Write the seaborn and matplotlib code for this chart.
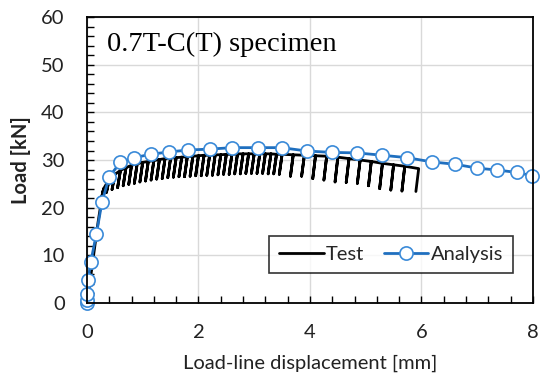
import matplotlib
matplotlib.use("Agg")
import matplotlib.pyplot as plt
from matplotlib.ticker import MultipleLocator
import seaborn as sns
import pandas as pd

# ---- Data ----
# Analysis curve
analysis_x = [0.0, 0.0, 0.01, 0.02, 0.07, 0.17, 0.27, 0.40, 0.60, 0.85, 1.14, 1.47, 1.82,
              2.21, 2.61, 3.06, 3.49, 3.94, 4.39, 4.84, 5.30, 5.74, 6.19, 6.61, 7.00,
              7.36, 7.71, 7.99]
analysis_y = [0.0, 0.6, 1.8, 4.8, 8.7, 14.5, 21.2, 26.5, 29.5, 30.5, 31.2, 31.7, 32.1,
              32.3, 32.6, 32.6, 32.6, 31.9, 31.6, 31.5, 31.0, 30.5, 29.6, 29.1, 28.3,
              27.9, 27.4, 26.7]

# Test curve: initial loading branch
test_rise_x = [0.0, 0.05, 0.12, 0.20, 0.26]
test_rise_y = [0.0, 4.0, 10.0, 17.0, 21.5]

# Test curve: partial unloadings (envelope point and lowest load of each unloading)
unload_x = [0.30, 0.40, 0.50, 0.60, 0.70, 0.80, 0.90, 1.00, 1.10, 1.20, 1.30, 1.40, 1.50,
            1.60, 1.70, 1.80, 1.90, 2.00, 2.10, 2.20, 2.30, 2.40, 2.50, 2.60, 2.70, 2.80,
            2.90, 3.00, 3.10, 3.20, 3.30, 3.40, 3.50, 3.70, 3.90, 4.10, 4.30, 4.50, 4.70,
            4.90, 5.10, 5.30, 5.50, 5.70, 5.95]
unload_top = [24.0, 26.0, 27.0, 27.8, 28.4, 28.9, 29.2, 29.5, 29.7, 29.9, 30.1, 30.3, 30.4,
              30.5, 30.6, 30.7, 30.8, 30.9, 31.0, 31.0, 31.1, 31.1, 31.2, 31.2, 31.3, 31.3,
              31.3, 31.3, 31.3, 31.3, 31.3, 31.2, 31.2, 31.1, 31.0, 30.9, 30.8, 30.6, 30.3,
              30.0, 29.7, 29.3, 29.0, 28.7, 28.2]
unload_bottom = [21.5, 23.2, 23.8, 24.2, 24.6, 24.9, 25.1, 25.4, 25.6, 25.8, 26.0, 26.1, 26.3,
                 26.4, 26.5, 26.5, 26.6, 26.7, 26.7, 26.8, 26.8, 26.9, 27.0, 27.0, 27.1, 27.1,
                 27.2, 27.2, 27.2, 27.2, 27.1, 27.1, 27.0, 26.6, 26.6, 26.1, 25.8, 25.4, 25.3,
                 25.1, 24.6, 24.0, 23.7, 23.5, 23.4]
unload_dx = 0.05  # horizontal shift of the elastic unloading line

# Build test path (loading, each unload down and back up, final unload ends the record)
tx = list(test_rise_x)
ty = list(test_rise_y)
for i, (ux, ut, ub) in enumerate(zip(unload_x, unload_top, unload_bottom)):
    tx += [ux, ux - unload_dx]
    ty += [ut, ub]
    if i < len(unload_x) - 1:
        tx.append(ux)
        ty.append(ut)
test_df = pd.DataFrame({"x": tx, "y": ty})
ana_df = pd.DataFrame({"x": analysis_x, "y": analysis_y})

x_ticks = [0, 2, 4, 6, 8]
y_ticks = [0, 10, 20, 30, 40, 50, 60]

# ---- Plot ----
sns.set_theme(style="white")
plt.rcParams["font.family"] = ["Lato", "DejaVu Sans"]

fig = plt.figure(figsize=(5.40, 3.79), dpi=100)
ax = fig.add_axes([0.161, 0.2005, 0.826, 0.7545])

line_blue = "#1f6fbf"
edge_blue = "#3a8ad8"
sns.lineplot(data=test_df, x="x", y="y", sort=False, estimator=None, ax=ax,
             color="black", lw=2.0, label="Test")
sns.lineplot(data=ana_df, x="x", y="y", sort=False, estimator=None, ax=ax,
             color=line_blue, lw=2.0, marker="o", markersize=9.5, markerfacecolor="white",
             markeredgecolor=edge_blue, markeredgewidth=1.2, label="Analysis", clip_on=False)

ax.set_xlim(0, 8)
ax.set_ylim(0, 60)
ax.set_xticks(x_ticks)
ax.set_yticks(y_ticks)
ax.xaxis.set_minor_locator(MultipleLocator(0.4))
ax.yaxis.set_minor_locator(MultipleLocator(2))
ax.grid(True, which="major", color="#d9d9d9", lw=1.0)
ax.set_axisbelow(True)
ax.tick_params(which="both", direction="in", length=5, width=1.0, color="black",
               top=False, right=False, bottom=True, left=True, labelsize=14.5,
               labelcolor="#222222")
ax.tick_params(axis="x", which="major", pad=15)
ax.tick_params(axis="y", which="major", pad=16)
for s in ax.spines.values():
    s.set_color("black")
    s.set_linewidth(1.3)

ax.set_xlabel("Load-line displacement [mm]", fontsize=14.5, color="#222222", labelpad=10)
ax.set_ylabel("Load [kN]", fontsize=14.5, fontweight="bold", color="#222222", labelpad=7)

ax.text(0.045, 0.905, "0.7T-C(T) specimen", transform=ax.transAxes,
        fontsize=20.5, family="Liberation Serif", va="center", ha="left", color="black")

leg = ax.legend(loc="lower right", bbox_to_anchor=(0.955, 0.105), borderaxespad=0,
                ncol=2, frameon=True, fancybox=False, edgecolor="black", fontsize=14.5,
                handlelength=2.2, columnspacing=1.0, handletextpad=0.1, borderpad=0.5)
leg.get_frame().set_linewidth(1.2)

fig.savefig("out.png", dpi=100)
